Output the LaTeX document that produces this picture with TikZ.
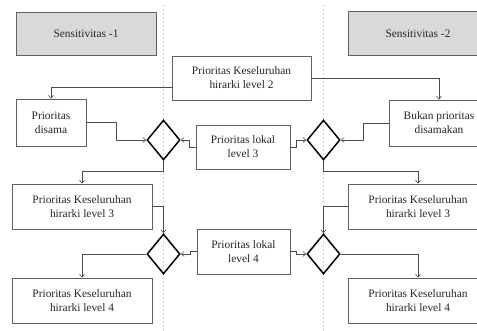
\documentclass[tikz,border=0pt]{standalone}
\usepackage{fontspec}
\setmainfont{Liberation Serif}
\usetikzlibrary{shapes.geometric,arrows.meta}
\tikzstyle{prbox} = [draw=gray!75!black, fill=white, line width=0.7pt,
    rectangle, inner sep=2pt, align=center,
    font=\fontsize{11.4}{14}\selectfont, text=black!85]
\tikzstyle{sensbox} = [prbox, fill=gray!30]
\tikzstyle{decide} = [draw=black, line width=1.5pt, diamond, inner sep=0pt,
    minimum width=33pt, minimum height=40pt]
\tikzstyle{conn} = [draw=gray!60!black, line width=0.6pt,
    -{Straight Barb[length=3pt,width=5pt]}]
\tikzstyle{lane} = [draw=gray!35, line width=0.8pt, dash pattern=on 2pt off 2pt]

\begin{document}
\begin{tikzpicture}[x=1pt,y=-1pt]
\useasboundingbox (0,0) rectangle (477,331);
\clip (0,0) rectangle (477,331);
% lanes
\draw[lane] (163.5,5) -- (163.5,331);
\draw[lane] (323.5,5) -- (323.5,331);

% boxes
\node[sensbox, minimum width=140pt, minimum height=43pt] (sens1) at (86,33.5) {Sensitivitas -1};
\node[sensbox, minimum width=140pt, minimum height=44pt] (sens2) at (418,33.5) {Sensitivitas -2};
\node[prbox, minimum width=139pt, minimum height=44pt] (lv2) at (241.5,78) {Prioritas Keseluruhan\\hirarki level 2};
\node[prbox, minimum width=70pt, minimum height=47pt] (dis) at (51,122.5) {Prioritas\\disama};
\node[prbox, minimum width=100pt, minimum height=46pt] (bukan) at (439,123) {Bukan prioritas\\disamakan};
\node[prbox, minimum width=94pt, minimum height=44pt] (lok3) at (243,147) {Prioritas lokal\\level 3};
\node[prbox, minimum width=140pt, minimum height=45pt] (lv3L) at (82,206.5) {Prioritas Keseluruhan\\hirarki level 3};
\node[prbox, minimum width=140pt, minimum height=45pt] (lv3R) at (418,206.5) {Prioritas Keseluruhan\\hirarki level 3};
\node[prbox, minimum width=93pt, minimum height=45pt] (lok4) at (243.5,251.5) {Prioritas lokal\\level 4};
\node[prbox, minimum width=140pt, minimum height=45pt] (lv4L) at (82,300.5) {Prioritas Keseluruhan\\hirarki level 4};
\node[prbox, minimum width=140pt, minimum height=45pt] (lv4R) at (418,300.5) {Prioritas Keseluruhan\\hirarki level 4};

% decisions
\node[decide] (d1) at (163.5,140) {};
\node[decide] (d2) at (323.5,140) {};
\node[decide] (d3) at (163.5,254) {};
\node[decide] (d4) at (323.5,254) {};

% connectors
\draw[conn] ([yshift=-9pt]lv2.west) -| (dis.north);
\draw[conn] (lv2.east) -| (bukan.north);
\draw[conn] (dis.east) -- ++(30,0) |- (d1.west);
\draw[conn] (bukan.west) -- ++(-25,0) |- (d2.east);
\draw[conn] (lok3.west) -- ++(-6,0) |- (d1.east);
\draw[conn] (lok3.east) -- ++(6,0) |- (d2.west);
\draw[conn] (d1.south) -- ++(0,11) -| (lv3L.north);
\draw[conn] (d2.south) -- ++(0,11) -| (lv3R.north);
\draw[conn] (lv3L.east) -| (d3.north);
\draw[conn] (lv3R.west) -| (d4.north);
\draw[conn] (lok4.west) -- ++(-6,0) |- (d3.east);
\draw[conn] (lok4.east) -- ++(6,0) |- (d4.west);
\draw[conn] (d3.west) -| (lv4L.north);
\draw[conn] (d4.east) -| (lv4R.north);
\end{tikzpicture}
\end{document}
